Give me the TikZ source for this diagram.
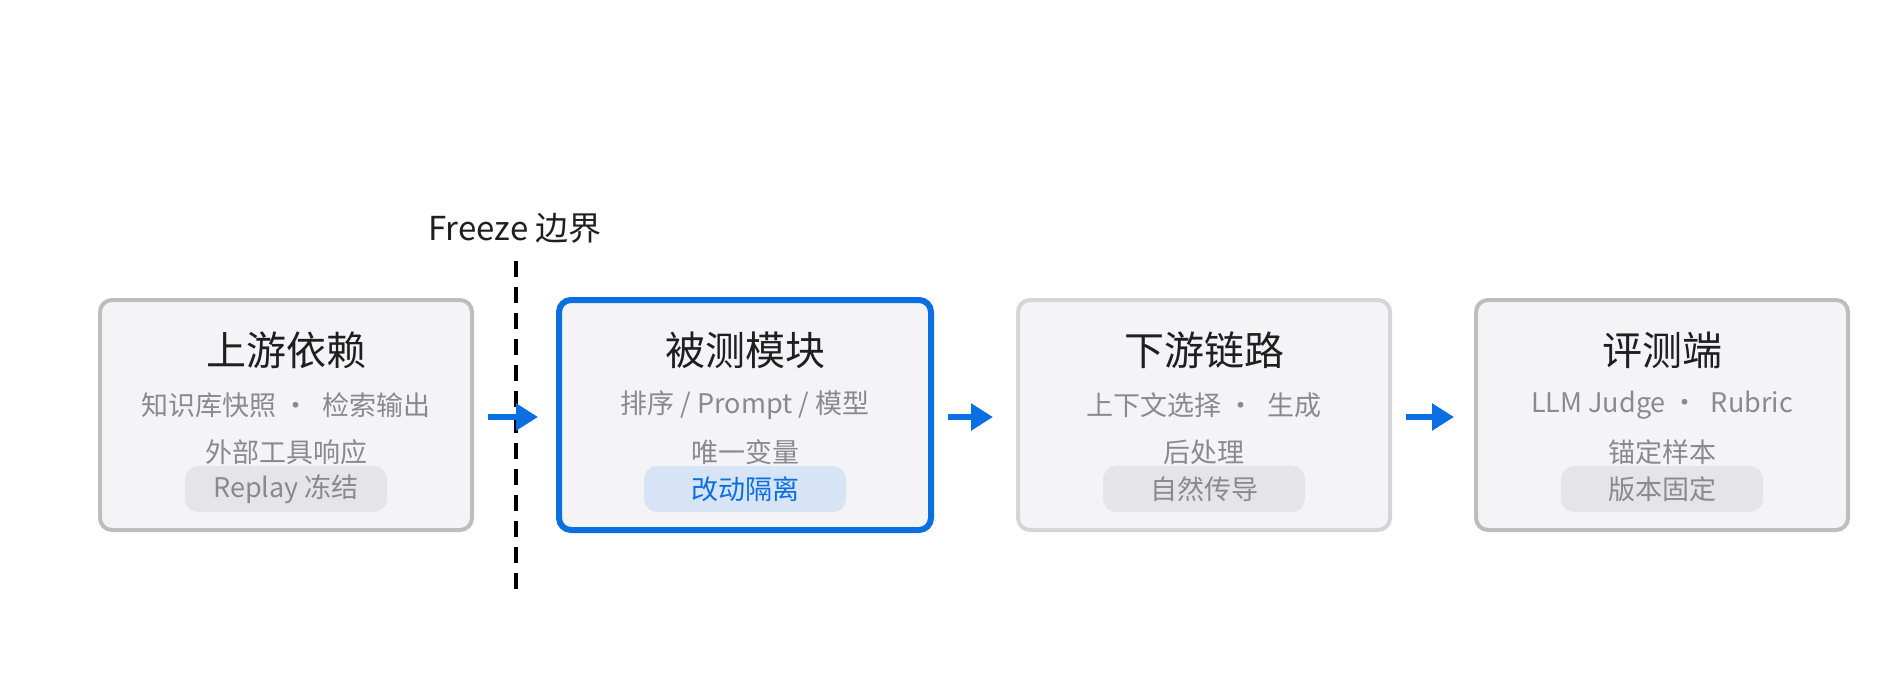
\documentclass[tikz,border=0pt]{standalone}
\usepackage{fontspec}
\setmainfont{Noto Sans CJK SC}
\usetikzlibrary{arrows.meta}
\definecolor{bfill}{HTML}{F4F4F6}
\definecolor{bgray}{HTML}{BDBDC1}
\definecolor{blgray}{HTML}{D6D6DA}
\definecolor{bblue}{HTML}{0A6FE0}
\definecolor{tsub}{HTML}{8A8A8E}
\definecolor{pgray}{HTML}{E5E5E8}
\definecolor{pblue}{HTML}{D6E4F5}
\begin{document}
\begin{tikzpicture}[x=1pt,y=-1pt,
 box/.style={draw=bgray,fill=bfill,line width=4pt,rounded corners=12pt,minimum width=372pt,minimum height=230pt},
 ttl/.style={font=\fontsize{40}{40}\selectfont,text=black!88},
 sub/.style={font=\fontsize{27}{27}\selectfont,text=tsub},
 pill/.style={fill=pgray,rounded corners=13pt,minimum width=202pt,minimum height=46pt,font=\fontsize{27}{27}\selectfont,text=tsub},
 arr/.style={draw=bblue,line width=6pt,-{Triangle[length=22pt,width=26pt]}}]
\useasboundingbox (0,0) rectangle (1885,695);
\node[box] (b1) at (286,415) {};
\node[box,draw=bblue,line width=6pt] (b2) at (745,415) {};
\node[box,draw=blgray] (b3) at (1204,415) {};
\node[box] (b4) at (1662,415) {};
% dashed boundary
\coordinate (dt) at (516,261);
\coordinate (db) at (516,597);
\draw[line width=3.5pt,dash pattern=on 16pt off 10pt] (dt) -- (db);
\node[font=\fontsize{33}{33}\selectfont,text=black!88] (fz) at (515,228) {Freeze 边界};
% box 1
\node[ttl] (t1) at (286,350) {上游依赖};
\node[sub] (s1) at (286,405) {知识库快照 ·\ \ 检索输出};
\node[sub] (u1) at (286,452) {外部工具响应};
\node[pill] (p1) at (286,489) {Replay 冻结};
% box 2
\node[ttl] (t2) at (745,350) {被测模块};
\node[sub] (s2) at (745,405) {排序 / Prompt / 模型};
\node[sub] (u2) at (745,452) {唯一变量};
\node[pill,fill=pblue,text=bblue] (p2) at (745,489) {改动隔离};
% box 3
\node[ttl] (t3) at (1204,350) {下游链路};
\node[sub] (s3) at (1204,405) {上下文选择 ·\ \ 生成};
\node[sub] (u3) at (1204,452) {后处理};
\node[pill] (p3) at (1204,489) {自然传导};
% box 4
\node[ttl] (t4) at (1662,350) {评测端};
\node[sub] (s4) at (1662,405) {LLM Judge ·\ \ Rubric};
\node[sub] (u4) at (1662,452) {锚定样本};
\node[pill] (p4) at (1662,489) {版本固定};
% arrows
\draw[arr] ([xshift=14pt]b1.east|-0,417) -- ([xshift=-18pt]b2.west|-0,417);
\draw[arr] ([xshift=14pt]b2.east|-0,417) -- ([xshift=-23pt]b3.west|-0,417);
\draw[arr] ([xshift=14pt]b3.east|-0,417) -- ([xshift=-20pt]b4.west|-0,417);
\end{tikzpicture}
\end{document}
